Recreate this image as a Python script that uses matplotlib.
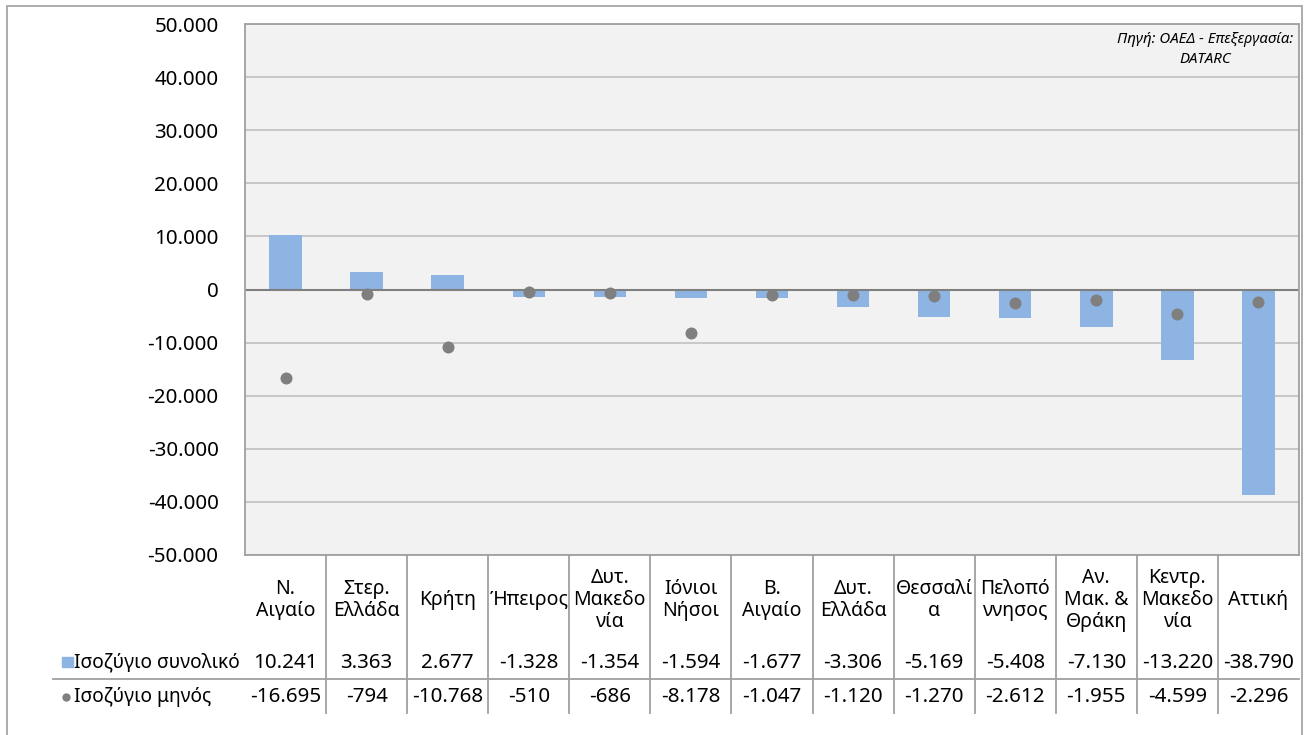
import matplotlib.pyplot as plt
from matplotlib import transforms
from matplotlib.patches import Rectangle
from matplotlib.lines import Line2D

plt.rcParams['font.family'] = ['Noto Sans', 'DejaVu Sans']

regions = ['Ν.\nΑιγαίο', 'Στερ.\nΕλλάδα', 'Κρήτη', 'Ήπειρος', 'Δυτ.\nΜακεδο\nνία',
           'Ιόνιοι\nΝήσοι', 'Β.\nΑιγαίο', 'Δυτ.\nΕλλάδα', 'Θεσσαλί\nα', 'Πελοπό\nννησος',
           'Αν.\nΜακ. &\nΘράκη', 'Κεντρ.\nΜακεδο\nνία', 'Αττική']
total_balance = [10241, 3363, 2677, -1328, -1354, -1594, -1677, -3306, -5169, -5408,
                 -7130, -13220, -38790]
month_balance = [-16695, -794, -10768, -510, -686, -8178, -1047, -1120, -1270, -2612,
                 -1955, -4599, -2296]
series_names = ['Ισοζύγιο συνολικό', 'Ισοζύγιο μηνός']
yticks = [-50000, -40000, -30000, -20000, -10000, 0, 10000, 20000, 30000, 40000, 50000]

W, H = 1307, 735
bar_color = '#8eb4e3'
dot_color = '#7f7f7f'


def fmt(v):
    return f"{v:,}".replace(",", ".")


def py(p):
    # pixel row -> figure fraction
    return 1 - p / H


fig = plt.figure(figsize=(W / 100, H / 100), dpi=100)

# outer chart frame
fig.patches.append(Rectangle((7 / W, -0.01), (1302 - 7) / W, py(6) + 0.01,
                             transform=fig.transFigure, fill=False,
                             edgecolor='#a6a6a6', linewidth=1.3))

ax = fig.add_axes([245 / W, py(555), (1299 - 245) / W, (555 - 24) / H])
ax.set_facecolor('#f2f2f2')

xs = list(range(len(regions)))
ax.bar(xs, total_balance, width=0.4, color=bar_color, zorder=2)
ax.scatter(xs, month_balance, s=75, color=dot_color, zorder=3, linewidths=0)

ax.set_xlim(-0.5, len(regions) - 0.5)
ax.set_ylim(-50000, 50000)
ax.set_yticks(yticks)
ax.set_yticklabels([fmt(v) for v in yticks], fontsize=14.8)
ax.set_xticks([])
ax.tick_params(axis='y', length=0, pad=19)
ax.grid(axis='y', color='#c4c4c4', linewidth=1.3, zorder=1)
ax.axhline(0, color='#7f7f7f', linewidth=1.5, zorder=2.5)
for sp in ax.spines.values():
    sp.set_color('#a0a0a0')
    sp.set_linewidth(1.3)

ax.text(0.911, 0.985, 'Πηγή: ΟΑΕΔ - Επεξεργασία:\nDATARC', transform=ax.transAxes,
        ha='center', va='top', fontsize=10.8, style='italic', linespacing=1.45)

# data table under the plot
tr = transforms.blended_transform_factory(ax.transData, fig.transFigure)
for i, name in enumerate(regions):
    ax.text(i, py(600), name, transform=tr, ha='center', va='center',
            fontsize=14, linespacing=1.12)
    ax.text(i, py(663), fmt(total_balance[i]), transform=tr, ha='center',
            va='center', fontsize=14.8)
    ax.text(i, py(697), fmt(month_balance[i]), transform=tr, ha='center',
            va='center', fontsize=14.8)
for i in range(1, len(regions)):
    ax.add_line(Line2D([i - 0.5, i - 0.5], [py(555), py(713)], transform=tr,
                       color='#a0a0a0', linewidth=1.3, clip_on=False))

fig.add_artist(Line2D([53 / W, 1299 / W], [py(679), py(679)], transform=fig.transFigure,
                      color='#a0a0a0', linewidth=1.3))

fig.patches.append(Rectangle((62 / W, py(667)), 11 / W, 10 / H, transform=fig.transFigure,
                             color=bar_color))
fig.add_artist(Line2D([66 / W], [py(697)], transform=fig.transFigure, marker='o',
                      markersize=6, color=dot_color, markeredgewidth=0))
fig.text(74 / W, py(663), series_names[0], ha='left', va='center', fontsize=13.8)
fig.text(74 / W, py(697), series_names[1], ha='left', va='center', fontsize=13.8)

fig.savefig('out.png', dpi=100)
